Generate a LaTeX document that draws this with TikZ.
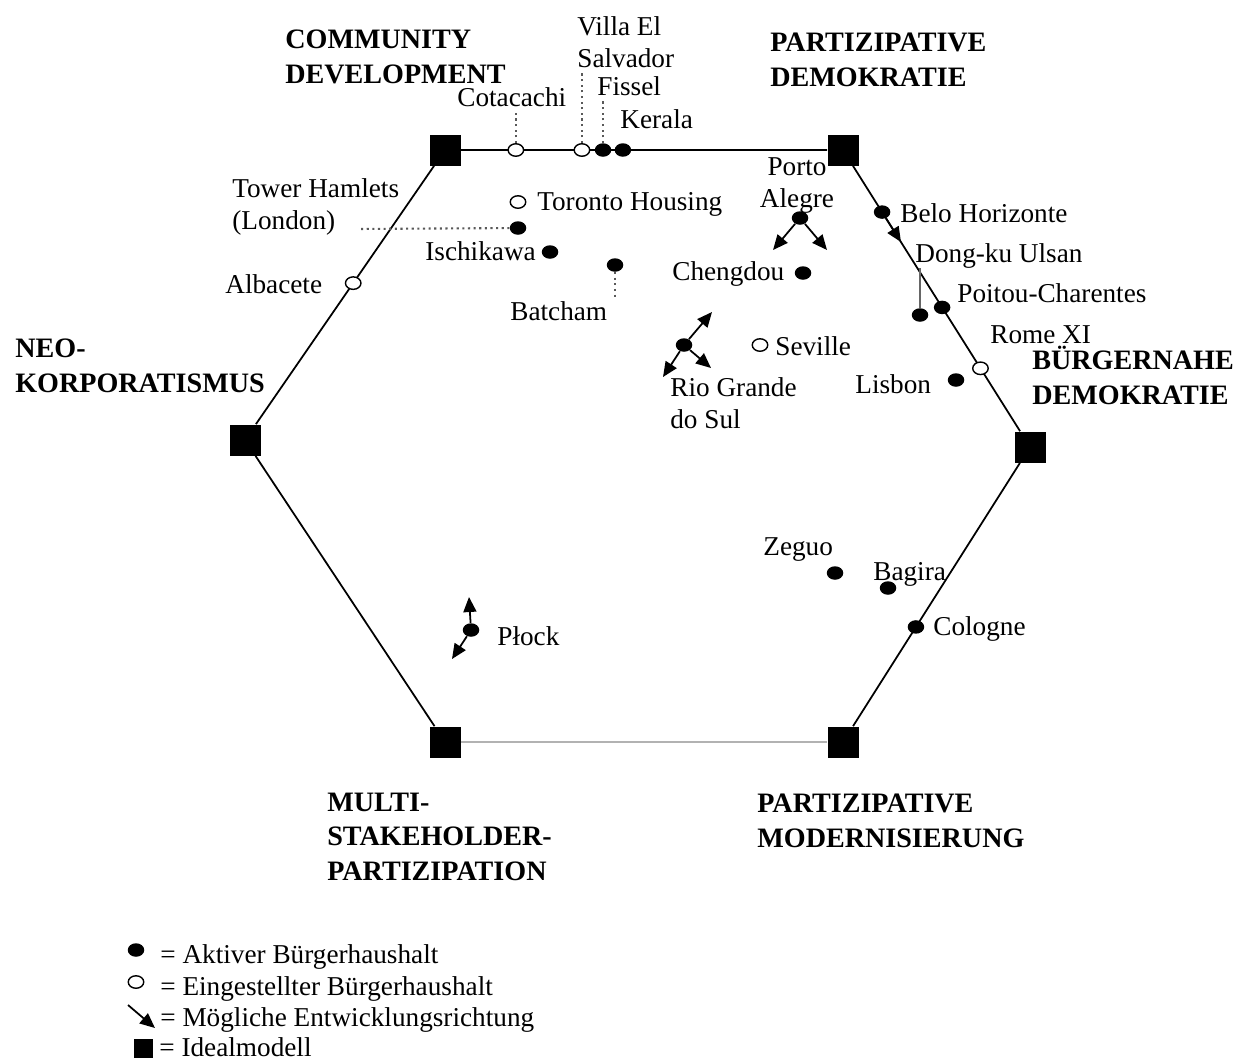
\documentclass[tikz,border=0pt]{standalone}
\usepackage{fontspec}
\setmainfont{Liberation Serif}
\usetikzlibrary{positioning,calc,shapes.geometric,arrows.meta}

\begin{document}
\begin{tikzpicture}[
		x=0.02cm, y=-0.02cm,
		ideal/.style={rectangle, fill=black, minimum size=6.2mm, inner sep=0pt},
		aktiv/.style={ellipse, fill=black, minimum width=3.3mm, minimum height=2.7mm, inner sep=0pt},
		eingestellt/.style={ellipse, draw=black, thick, fill=white, minimum width=3.1mm, minimum height=2.5mm, inner sep=0pt},
		kante/.style={line width=1pt},
		richtung/.style={-{Triangle[length=3mm, width=2.6mm]}, line width=1pt},
		hinweis/.style={dotted, line width=1.2pt, gray!70!black, shorten >=2pt},
		titel/.style={font=\bfseries\fontsize{16}{19.5}\selectfont, align=left, anchor=base west, inner sep=0pt},
		ort/.style={font=\fontsize{15.5}{18}\selectfont, align=left, anchor=base west, inner sep=0pt},
	]
	\useasboundingbox (0,0) rectangle (1239,1062);

	% Idealmodelle
	\node[ideal] (tl) at (445,150) {};
	\node[ideal] (tr) at (843,150) {};
	\node[ideal] (r)  at (1030,447) {};
	\node[ideal] (br) at (843,742) {};
	\node[ideal] (bl) at (445,742) {};
	\node[ideal] (l)  at (245,440) {};

	\draw[kante] (bl) -- (l) -- (tl) -- (tr) -- (r) -- (br);
	\draw[gray!60, line width=1.6pt] (bl) -- (br);

	% (base = letzte Zeile)
	\node[titel] (cd) at (285,83)  {COMMUNITY\\DEVELOPMENT};
	\node[titel] (pd) at (770,86)  {PARTIZIPATIVE\\DEMOKRATIE};
	\node[titel] (nk) at (15,392)  {NEO-\\KORPORATISMUS};
	\node[titel] (bd) at (1032,404) {BÜRGERNAHE\\DEMOKRATIE};
	\node[titel] (ms) at (327,880) {MULTI-\\STAKEHOLDER-\\PARTIZIPATION};
	\node[titel] (pm) at (757,847) {PARTIZIPATIVE\\MODERNISIERUNG};

	% obere Kante
	\node[eingestellt] (cota)   at ($(tl)!0.178!(tr)$) {};
	\node[eingestellt] (villa)  at ($(tl)!0.344!(tr)$) {};
	\node[aktiv]       (fissel) at ($(tl)!0.397!(tr)$) {};
	\node[aktiv]       (kerala) at ($(tl)!0.447!(tr)$) {};
	\node[ort] (cotaL)   at (457,106) {Cotacachi};
	\node[ort] (villaL)  at (577,67)  {Villa El\\Salvador};
	\node[ort] (fisselL) at (597,95)  {Fissel};
	\node[ort] (keralaL) at (620,128) {Kerala};
	\draw[hinweis] (cota) -- (cota |- cotaL.south);
	\draw[hinweis] (villa) -- (villa |- villaL.south);
	\draw[hinweis] (fissel) -- (fissel |- fisselL.south);

	% links oben
	\node[eingestellt] (toronto) at (518,202) {};
	\node[aktiv] (tower)    at (518,228) {};
	\node[aktiv] (ischi)    at (550,252) {};
	\node[aktiv] (batcham)  at (615,265) {};
	\node[eingestellt] (albacete) at ($(l)!0.541!(tl)$) {};
	\node[ort] (torontoL) at (537,210) {Toronto Housing};
	\node[ort] (towerL)   at (232,229) {Tower Hamlets\\(London)};
	\node[ort] (ischiL)   at (425,260) {Ischikawa};
	\node[ort] (batchamL) at (510,320) {Batcham};
	\node[ort] (albaceteL) at (225,293) {Albacete};
	\coordinate (towerE) at (355,229);
	\draw[hinweis] (tower) -- (towerE);
	\draw[hinweis] (batcham) -- (batcham |- batchamL.north);

	% rechts oben
	\node[aktiv] (porto)    at (800,218) {};
	\node[aktiv] (chengdou) at (803,273) {};
	\node[aktiv] (belo)     at ($(tr)!0.209!(r)$) {};
	\node[aktiv] (dong)     at (920,315) {};
	\node[aktiv] (poitou)   at ($(tr)!0.53!(r)$) {};
	\node[eingestellt] (rome) at ($(tr)!0.735!(r)$) {};
	\node[aktiv] (lisbon)   at (956,380) {};
	\node[aktiv] (rio)      at (684,345) {};
	\node[eingestellt] (seville) at (760,345) {};
	\node[ort, align=center, anchor=base] (portoL) at (797,207) {Porto\\Alegre};
	\node[ort] (chengdouL) at (672,280) {Chengdou};
	\node[ort] (beloL)     at (900,222) {Belo Horizonte};
	\node[ort] (dongL)     at (915,262) {Dong-ku Ulsan};
	\node[ort] (poitouL)   at (957,302) {Poitou-Charentes};
	\node[ort] (romeL)     at (990,343) {Rome XI};
	\node[ort] (lisbonL)   at (855,393) {Lisbon};
	\node[ort] (rioL)      at (670,428) {Rio Grande\\do Sul};
	\node[ort] (sevilleL)  at (775,355) {Seville};
	\draw[gray!80!black, line width=0.8pt] (dong) -- (dong |- dongL.south);

	\coordinate (portoA) at (773,250);
	\coordinate (portoB) at (827,250);
	\coordinate (beloA)  at ($(tr)!0.31!(r)$);
	\coordinate (rioA) at (712,312);
	\coordinate (rioB) at (663,377);
	\coordinate (rioC) at (711,368);
	\draw[richtung] (porto) -- (portoA);
	\draw[richtung] (porto) -- (portoB);
	\draw[richtung] (belo) -- (beloA);
	\draw[richtung] (rio) -- (rioA);
	\draw[richtung] (rio) -- (rioB);
	\draw[richtung] (rio) -- (rioC);

	% unten
	\node[aktiv] (zeguo)   at (835,573) {};
	\node[aktiv] (bagira)  at (888,588) {};
	\node[aktiv] (cologne) at ($(r)!0.61!(br)$) {};
	\node[aktiv] (plock)   at (471,630) {};
	\node[ort] (zeguoL)   at (763,555) {Zeguo};
	\node[ort] (bagiraL)  at (873,580) {Bagira};
	\node[ort] (cologneL) at (933,635) {Cologne};
	\node[ort] (plockL)   at (497,645) {Płock};
	\coordinate (plockA) at (469,597);
	\coordinate (plockB) at (452,659);
	\draw[richtung] (plock) -- (plockA);
	\draw[richtung] (plock) -- (plockB);

	% Legende
	\node[aktiv] (legA) at (136,950) {};
	\node[eingestellt] (legE) at (136,982) {};
	\coordinate (legR1) at (128,1005);
	\coordinate (legR2) at (155,1028);
	\draw[richtung] (legR1) -- (legR2);
	\node[ideal, minimum size=3.8mm] (legI) at (143,1048) {};
	\node[ort] (legAL) at (160,963)  {= Aktiver Bürgerhaushalt};
	\node[ort] (legEL) at (160,995)  {= Eingestellter Bürgerhaushalt};
	\node[ort] (legRL) at (160,1026) {= Mögliche Entwicklungsrichtung};
	\node[ort] (legIL) at (159,1056) {= Idealmodell};

\end{tikzpicture}
\end{document}
